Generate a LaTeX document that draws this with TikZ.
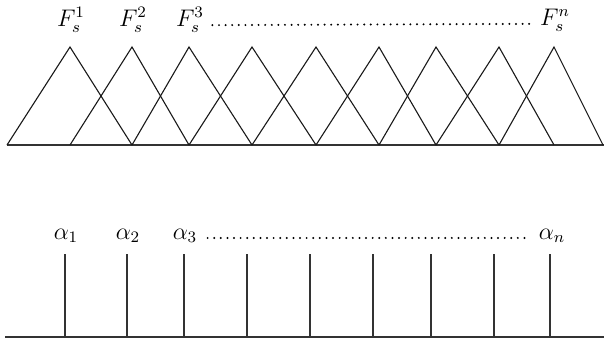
\documentclass[tikz,border=0pt]{standalone}
\usepackage{amsmath,amssymb}
\usepackage{tikz}
\usetikzlibrary{positioning, calc}

\begin{document}
\begin{tikzpicture}[
    x=0.5pt, y=-0.5pt,
    axis/.style={line width=0.65pt, draw=black!80},
    tri/.style={line width=0.55pt, draw=black!90},
    spike/.style={line width=0.65pt, draw=black!80},
    lbl/.style={font=\large, inner sep=1pt},
    gap/.style={line width=1.1pt, dash pattern=on 0pt off 3.3pt, line cap=round}
]
\useasboundingbox (0,0) rectangle (604,345);
% fuzzy sets
\draw[axis] (7,145) -- (604,145);
\foreach \l/\p/\r in {7/70/132, 70/132/189, 132/189/252, 189/252/316, 252/316/379,
    316/379/436, 379/436/499, 436/499/554, 499/554/603}
    \draw[tri] (\l,145) -- (\p,47) -- (\r,145);
\node[lbl] (F1) at (71,20) {$F_s^1$};
\node[lbl] (F2) at (133,20) {$F_s^2$};
\node[lbl] (F3) at (190,20) {$F_s^3$};
\node[lbl] (Fn) at (555,20) {$F_s^n$};
\draw[gap] ([xshift=3pt, yshift=0.7pt]F3.base east) -- ([xshift=-3pt, yshift=0.7pt]Fn.base west);
% singletons
\draw[axis] (5,337) -- (604,337);
\foreach \x in {65, 127, 184, 247, 310, 373, 431, 494, 550}
    \draw[spike] (\x,254) -- (\x,337);
\node[lbl] (a1) at (66,236) {$\alpha_1$};
\node[lbl] (a2) at (128,236) {$\alpha_2$};
\node[lbl] (a3) at (185,236) {$\alpha_3$};
\node[lbl] (an) at (552,236) {$\alpha_n$};
\draw[gap] ([xshift=4pt, yshift=0.7pt]a3.base east) -- ([xshift=-3pt, yshift=0.7pt]an.base west);
\end{tikzpicture}
\end{document}
